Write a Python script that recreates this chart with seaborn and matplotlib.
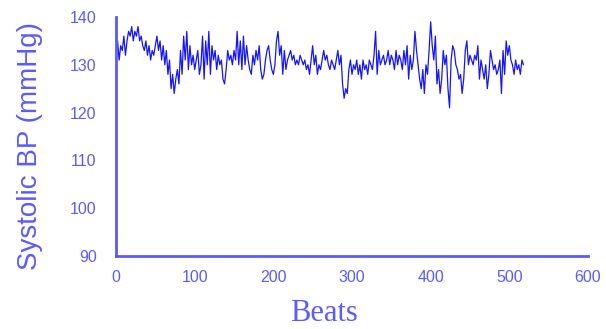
import numpy as np
import pandas as pd
import matplotlib
matplotlib.use("Agg")
import matplotlib.pyplot as plt
import seaborn as sns

# Beat index (every second beat) and systolic pressure readings (mmHg)
beats = list(range(0, 520, 2))
systolic_bp = [
    132, 135, 131, 134, 133, 136, 132, 135, 137, 136,
    138, 135, 137, 136, 138, 135, 136, 134, 133, 135,
    132, 134, 131, 133, 132, 134, 136, 133, 135, 131,
    134, 130, 133, 128, 131, 125, 128, 124, 127, 129,
    126, 133, 128, 136, 131, 137, 129, 134, 130, 132,
    129, 131, 133, 128, 130, 136, 127, 135, 130, 137,
    128, 134, 131, 133, 129, 132, 130, 131, 127, 126,
    129, 133, 131, 132, 130, 133, 131, 137, 130, 135,
    129, 136, 130, 134, 131, 129, 128, 132, 130, 133,
    131, 134, 129, 127, 128, 131, 133, 134, 131, 129,
    128, 130, 135, 137, 132, 134, 128, 133, 129, 131,
    132, 133, 131, 132, 130, 131, 130, 132, 131, 130,
    131, 129, 130, 128, 131, 134, 130, 132, 128, 130,
    129, 131, 133, 131, 132, 130, 129, 131, 130, 129,
    131, 133, 130, 132, 126, 123, 125, 124, 129, 131,
    128, 130, 129, 131, 128, 130, 127, 131, 129, 130,
    128, 131, 130, 129, 132, 137, 128, 133, 130, 131,
    132, 130, 131, 133, 130, 132, 131, 129, 133, 130,
    132, 131, 129, 133, 130, 134, 127, 132, 129, 131,
    137, 133, 130, 127, 125, 129, 124, 130, 128, 133,
    139, 134, 131, 136, 126, 129, 124, 127, 133, 130,
    132, 125, 121, 131, 134, 133, 130, 129, 127, 128,
    124, 127, 133, 135, 130, 132, 131, 130, 132, 131,
    134, 127, 131, 129, 127, 130, 125, 128, 133, 131,
    129, 130, 128, 129, 131, 124, 133, 128, 135, 132,
    134, 131, 130, 128, 131, 129, 130, 128, 131, 130,
]
x_ticks = [0, 100, 200, 300, 400, 500, 600]
y_ticks = [90, 100, 110, 120, 130, 140]

df = pd.DataFrame({"Beats": beats, "BP": systolic_bp})

sns.set_style("white")
axis_blue = "#5a5aff"
line_blue = "#1414ff"

fig = plt.figure(figsize=(6.06, 3.29), dpi=100)
ax = fig.add_axes([116 / 606, 1 - 256 / 329, (588 - 116) / 606, (256 - 17) / 329])

sns.lineplot(data=df, x="Beats", y="BP", ax=ax, color=line_blue, linewidth=0.9)

ax.set_xlim(0, 600)
ax.set_ylim(90, 140)
ax.set_xticks(x_ticks)
ax.set_yticks(y_ticks)
ax.set_xticklabels([str(v) for v in x_ticks], family="Liberation Sans", fontsize=11.5, color=axis_blue)
ax.set_yticklabels([str(v) for v in y_ticks], family="Liberation Sans", fontsize=11.5, color=axis_blue)
ax.tick_params(axis="x", direction="in", length=4, width=1, color=axis_blue, pad=10)
ax.tick_params(axis="y", direction="in", length=4, width=1, color=axis_blue, pad=14)

for side in ("top", "right"):
    ax.spines[side].set_visible(False)
for side in ("left", "bottom"):
    ax.spines[side].set_color(axis_blue)
    ax.spines[side].set_linewidth(2)

ax.set_ylabel("Systolic BP (mmHg)", family="Liberation Sans", fontsize=20, color=axis_blue)
ax.yaxis.set_label_coords(-0.155, 0.46)
ax.set_xlabel("Beats", family="Liberation Serif", fontsize=22, color=axis_blue)
ax.xaxis.set_label_coords(0.44, -0.178)

fig.savefig("out.png", dpi=100)
